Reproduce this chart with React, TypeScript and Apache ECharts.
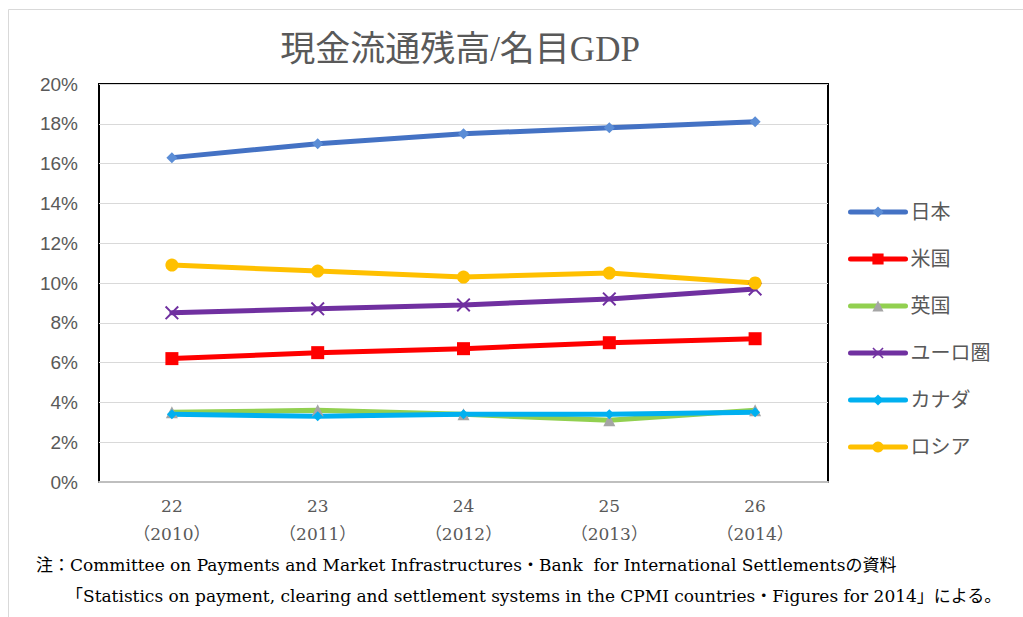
import React, { useEffect, useRef } from "react";
import * as echarts from "echarts";

const categories = ["22\n（2010）", "23\n（2011）", "24\n（2012）", "25\n（2013）", "26\n（2014）"];
const japan = [16.3, 17.0, 17.5, 17.8, 18.1];
const usa = [6.2, 6.5, 6.7, 7.0, 7.2];
const uk = [3.5, 3.6, 3.4, 3.1, 3.6];
const euro = [8.5, 8.7, 8.9, 9.2, 9.7];
const canada = [3.4, 3.3, 3.4, 3.4, 3.5];
const russia = [10.9, 10.6, 10.3, 10.5, 10.0];
const seriesNames = ["日本", "米国", "英国", "ユーロ圏", "カナダ", "ロシア"];
const title = "現金流通残高/名目GDP";
const note1 = "注：Committee on Payments and Market Infrastructures・Bank  for International Settlementsの資料";
const note2 = "「Statistics on payment, clearing and settlement systems in the CPMI countries・Figures for 2014」による。";

const crossPath =
  "path://M0,1L1,0L5,4L9,0L10,1L6,5L10,9L9,10L5,6L1,10L0,9L4,5Z";

export default function App() {
  const ref = useRef<HTMLDivElement>(null);
  useEffect(() => {
    if (!ref.current) return;
    const chart = echarts.init(ref.current, null, { renderer: "svg" });
    const serif = "'Liberation Serif', 'Noto Sans CJK JP', serif";
    const wideSerif = "'DejaVu Serif', 'Noto Sans CJK JP', serif";
    const mk = (
      name: string,
      data: number[],
      lineColor: string,
      markColor: string,
      symbol: string,
      size: number
    ) => ({
      name,
      type: "line",
      data,
      symbol,
      symbolSize: size,
      lineStyle: { color: lineColor, width: 5, cap: "round" },
      itemStyle: { color: markColor },
      emphasis: { disabled: true },
    });
    chart.setOption({
      animation: false,
      backgroundColor: "#fff",
      title: {
        text: title,
        left: 455,
        top: 27,
        textAlign: "center",
        textStyle: {
          fontFamily: serif,
          fontSize: 35,
          fontWeight: "normal",
          color: "#595959",
        },
      },
      graphic: [
        {
          type: "rect",
          shape: { x: 8.5, y: 9.5, width: 1100, height: 700 },
          style: { fill: "none", stroke: "#D9D9D9", lineWidth: 1 },
          silent: true,
        },
        {
          type: "text",
          left: 36,
          top: 556,
          style: { text: note1, font: `17px ${wideSerif}`, fill: "#000" },
        },
        {
          type: "text",
          left: 66,
          top: 587,
          style: { text: note2, font: `17px ${wideSerif}`, fill: "#000" },
        },
      ],
      legend: {
        orient: "vertical",
        left: 843,
        top: 197,
        itemWidth: 55,
        itemHeight: 14,
        itemGap: 27,
        data: seriesNames,
        lineStyle: { width: 5, cap: "round" },
        textStyle: {
          fontFamily: serif,
          fontSize: 20,
          lineHeight: 20,
          color: "#595959",
        },
      },
      grid: {
        left: 99,
        top: 84,
        right: 195,
        bottom: 135,
        show: true,
        borderColor: "#000",
        borderWidth: 2,
        backgroundColor: "transparent",
      },
      xAxis: {
        type: "category",
        data: categories,
        boundaryGap: true,
        axisLine: { show: true, lineStyle: { color: "#BFBFBF", width: 2 } },
        axisTick: { show: false },
        axisLabel: {
          fontFamily: wideSerif,
          fontSize: 17,
          color: "#595959",
          margin: 10,
          lineHeight: 28,
        },
        z: 10,
      },
      yAxis: {
        type: "value",
        min: 0,
        max: 20,
        interval: 2,
        axisLine: { show: false },
        axisTick: { show: false },
        splitLine: { lineStyle: { color: "#D9D9D9", width: 1 } },
        axisLabel: {
          formatter: "{value}%",
          fontFamily: "'Liberation Sans', sans-serif",
          fontSize: 19,
          color: "#595959",
          margin: 21,
        },
      },
      series: [
        mk(seriesNames[0], japan, "#4472C4", "#5B8DD6", "diamond", 11),
        mk(seriesNames[1], usa, "#FF0000", "#FF0000", "rect", 13),
        mk(seriesNames[2], uk, "#92D050", "#A5A5A5", "triangle", 12),
        mk(seriesNames[3], euro, "#7030A0", "#7030A0", crossPath, 14),
        mk(seriesNames[4], canada, "#00B0F0", "#00B0F0", "diamond", 10),
        mk(seriesNames[5], russia, "#FFC000", "#FFC000", "circle", 13),
      ],
    });
    return () => chart.dispose();
  }, []);
  return (
    <div
      ref={ref}
      style={{ position: "fixed", left: 0, top: 0, width: 1023, height: 617 }}
    />
  );
}
